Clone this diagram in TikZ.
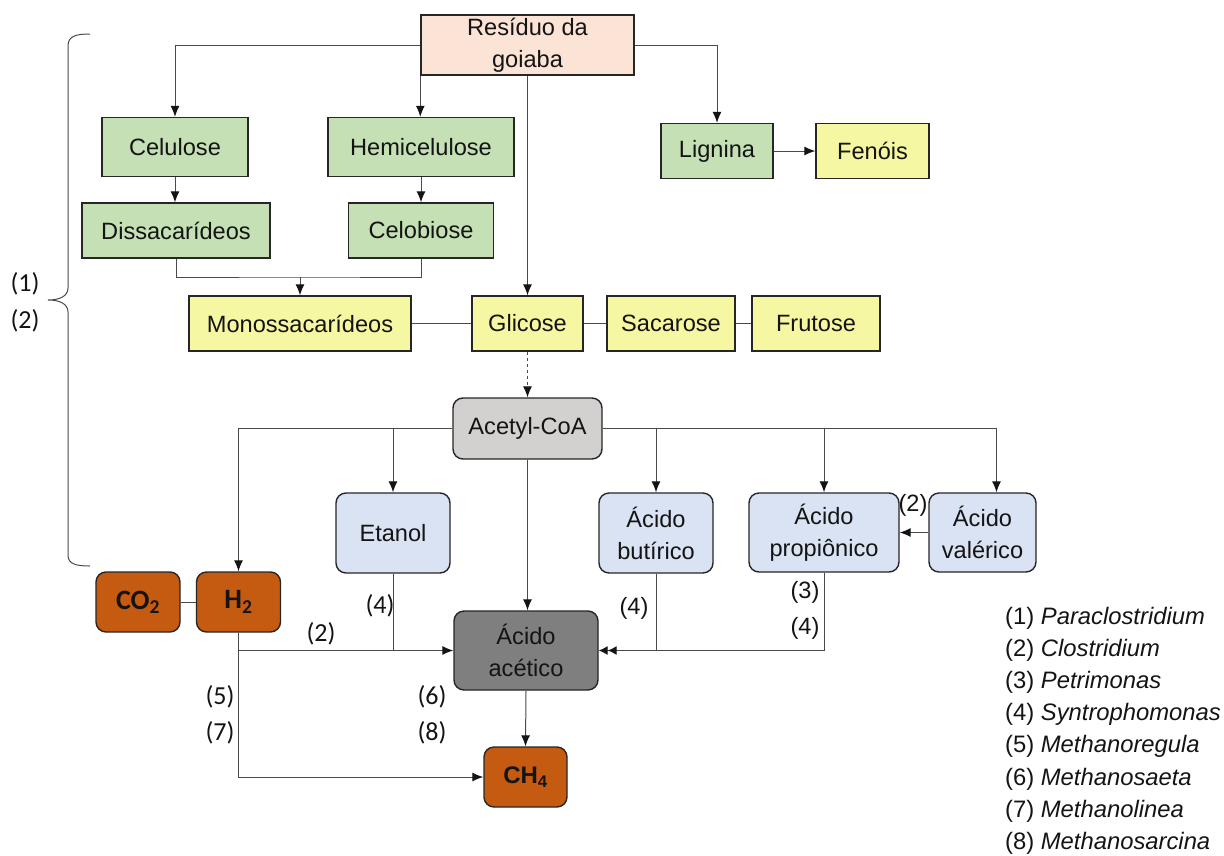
\documentclass[tikz,border=0pt]{standalone}
\usepackage{fontspec}
\usetikzlibrary{arrows.meta,calc}
\newfontfamily\arialf{Liberation Sans}
\newfontfamily\calibf{Carlito}
\definecolor{peach}{HTML}{FBE3D6}
\definecolor{leaf}{HTML}{C5E0B4}
\definecolor{pale}{HTML}{F5F7A2}
\definecolor{coa}{HTML}{D3D0D0}
\definecolor{acid}{HTML}{DAE3F3}
\definecolor{acet}{HTML}{7F7F7F}
\definecolor{gas}{HTML}{C55A11}
\definecolor{edge}{HTML}{262626}
\definecolor{wire}{HTML}{4A4A4A}
\definecolor{ink}{HTML}{141414}
\tikzset{
  box/.style={draw=edge, line width=1.4pt, inner sep=0pt, align=center, text=ink,
    font=\arialf\fontsize{23.6}{32}\selectfont},
  sqbox/.style={box},
  rbox/.style={box, rounded corners=10pt},
  gasbox/.style={box, rounded corners=10pt, fill=gas, minimum width=84pt, minimum height=60pt},
  conn/.style={draw=wire, line width=1pt},
  arr/.style={conn, -{Latex[length=11pt,width=9pt,color=ink]}},
  dblarr/.style={conn, -{Latex[length=9pt,width=9pt,color=ink]Latex[length=9pt,width=9pt,color=ink]}},
  clab/.style={inner sep=0pt, text=ink, font=\calibf\fontsize{26}{30}\selectfont},
  alab/.style={inner sep=0pt, text=ink, font=\arialf\fontsize{23.6}{28}\selectfont},
  leg/.style={anchor=west, inner sep=0pt, text=ink, font=\arialf\fontsize{23.8}{28}\selectfont},
}
\begin{document}
\begin{tikzpicture}[x=1pt,y=-1pt]
\useasboundingbox (0,0) rectangle (1224,855);

% raw material and lignocellulosic fractions
\node[sqbox, fill=peach, minimum width=213pt, minimum height=60pt] (res) at (527.5,45) {Resíduo da\\goiaba};
\node[sqbox, fill=leaf, minimum width=146pt, minimum height=59pt] (cel) at (175,147) {Celulose};
\node[sqbox, fill=leaf, minimum width=186pt, minimum height=59pt] (hemi) at (421,147) {Hemicelulose};
\node[sqbox, fill=leaf, minimum width=112pt, minimum height=55pt] (lig) at (717,151) {Lignina};
\node[sqbox, fill=pale, minimum width=113pt, minimum height=55pt] (fen) at (872.5,151) {Fenóis};
\node[sqbox, fill=leaf, minimum width=188pt, minimum height=55pt] (dis) at (176,230.5) {Dissacarídeos};
\node[sqbox, fill=leaf, minimum width=145pt, minimum height=55pt] (celo) at (421,230.5) {Celobiose};

% sugars
\node[sqbox, fill=pale, minimum width=222pt, minimum height=55pt] (mono) at (300,323.5) {Monossacarídeos};
\node[sqbox, fill=pale, minimum width=111pt, minimum height=55pt] (gli) at (527.5,323.5) {Glicose};
\node[sqbox, fill=pale, minimum width=128pt, minimum height=55pt] (sac) at (671,323.5) {Sacarose};
\node[sqbox, fill=pale, minimum width=128pt, minimum height=55pt] (fru) at (816,323.5) {Frutose};

% fermentation products
\node[rbox, fill=coa, minimum width=149pt, minimum height=61pt] (acoa) at (527.5,428.5) {Acetyl-CoA};
\node[rbox, fill=acid, minimum width=114pt, minimum height=80pt] (eta) at (393,533) {Etanol};
\node[rbox, fill=acid, minimum width=114pt, minimum height=80pt] (but) at (656,533) {Ácido\\butírico};
\node[rbox, fill=acid, minimum width=150pt, minimum height=79pt] (prop) at (824,532.5) {Ácido\\propiônico};
\node[rbox, fill=acid, minimum width=107pt, minimum height=79pt] (val) at (982.5,532.5) {Ácido\\valérico};
\node[rbox, fill=acet, minimum width=144pt, minimum height=79pt] (acet) at (526,650.5) {Ácido\\acético};

% gases
\node[gasbox, font=\calibf\bfseries\fontsize{28}{30}\selectfont] (co2) at (138,602) {CO\textsubscript{2}};
\node[gasbox, font=\calibf\bfseries\fontsize{28}{30}\selectfont] (h2) at (238.5,602) {H\textsubscript{2}};
\node[gasbox, font=\arialf\bfseries\fontsize{24}{28}\selectfont, minimum width=83pt] (ch4) at (525.5,777) {CH\textsubscript{4}};

% hydrolysis
\draw[arr] (res.west) -| (cel.north);
\draw[arr] (res.south west) -- (res.south west |- hemi.north);
\draw[arr] (res.south) -- (gli.north);
\draw[arr] (res.east) -| (lig.north);
\draw[arr] (cel.south) -- (cel.south |- dis.north);
\draw[arr] (hemi.south) -- (celo.north);
\coordinate (join) at (300,277);
\draw[conn] (dis.south) |- (join) -| (celo.south);
\draw[arr] (join) -- (mono.north);
\draw[arr] (lig.east) -- (fen.west);
\draw[conn] (mono.east) -- (gli.west);
\draw[conn] (gli.east) -- (sac.west);
\draw[conn] (sac.east) -- (fru.west);
\draw[arr, dashed] (gli.south) -- (acoa.north);

% acidogenesis
\draw[arr] (acoa.west) -| (h2.north);
\draw[arr] (acoa.west -| eta.north) -- (eta.north);
\coordinate (valin) at ($(val.north)+(14,0)$);
\draw[arr] (acoa.east) -| (valin);
\draw[arr] (acoa.east -| but.north) -- (but.north);
\draw[arr] (acoa.east -| prop.north) -- (prop.north);
\draw[arr] (acoa.south) -- (acoa.south |- acet.north);
\draw[arr] (val.west) -- (val.west -| prop.east);
\draw[conn] (h2.west) -- (co2.east);

% acetogenesis and methanogenesis
\draw[arr] (h2.south) |- (acet.west);
\draw[conn] (eta.south) -- (eta.south |- acet.west);
\draw[arr] (h2.south) |- (ch4.west);
\draw[dblarr] (prop.south) |- (acet.east);
\draw[conn] (but.south) -- (but.south |- acet.east);
\draw[arr] (acet.south) -- (ch4.north);

% organism labels on the pathways
\node[clab] (l2a) at (321,634) {(2)};
\node[clab] (l4a) at (380,606) {(4)};
\node[clab] (l5) at (220,697) {(5)};
\node[clab] (l7) at (220,733) {(7)};
\node[clab] (l6) at (432,697) {(6)};
\node[clab] (l8) at (432,733) {(8)};
\node[alab] (l4b) at (634,608) {(4)};
\node[alab] (l3) at (805,592) {(3)};
\node[alab] (l4c) at (805,628) {(4)};
\node[alab] (l2b) at (913,505) {(2)};

% hydrolysis and acidogenesis bracket
\draw[conn] (90,34) .. controls (76,34) and (68,36) .. (68,46) -- (68,288)
  .. controls (68,296) and (60,300) .. (48,300)
  .. controls (60,300) and (68,304) .. (68,312) -- (68,555)
  .. controls (68,564) and (76,566) .. (90,566);
\node[clab] (l1) at (25,284) {(1)};
\node[clab] (l2) at (25,321) {(2)};

% key to the organisms
\foreach \k/\n [count=\i from 0] in {1/Paraclostridium,2/Clostridium,3/Petrimonas,4/Syntrophomonas,5/Methanoregula,6/Methanosaeta,7/Methanolinea,8/Methanosarcina}
  \node[leg] (key\k) at (1005,618+32.2*\i) {(\k) \textit{\n}};
\end{tikzpicture}
\end{document}
